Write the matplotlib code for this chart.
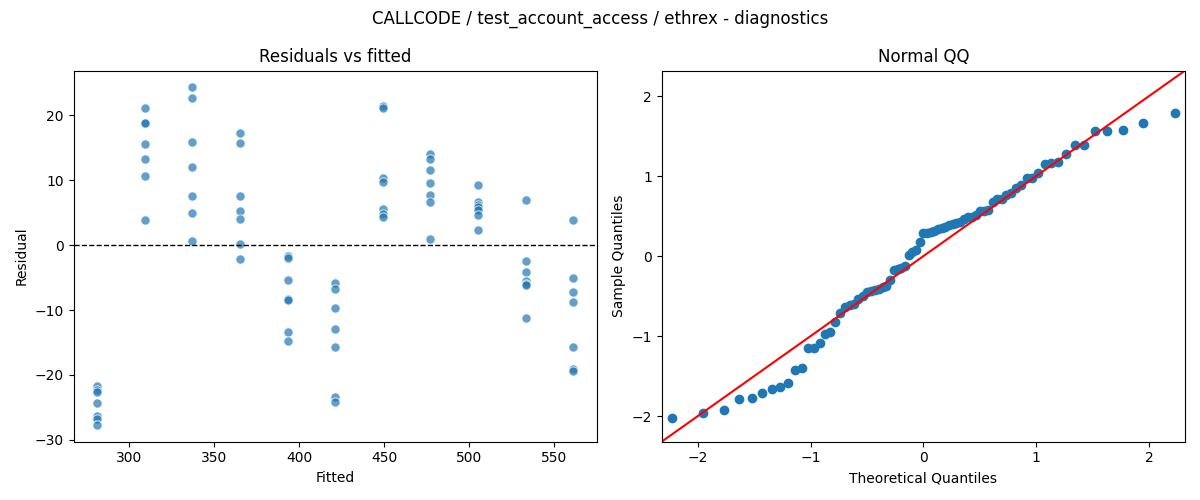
import numpy as np
import matplotlib
matplotlib.use("Agg")
from matplotlib import pyplot as plt
from statistics import NormalDist

# fitted level of each group and the residuals
fitted_levels = [281.3, 309.3, 337.3, 365.3, 393.3, 421.3, 449.3, 477.3, 505.3, 533.3, 561.3]
residuals = [
    [-21.7, -22.4, -22.7, -24.4, -26.3, -26.8, -27.7],
    [21.2, 18.9, 18.8, 15.6, 13.2, 10.7, 3.8],
    [24.3, 22.6, 15.9, 12.1, 7.6, 4.9, 0.7],
    [17.3, 15.8, 7.6, 5.2, 4.1, 0.15, -2.2],
    [-1.7, -2.0, -5.4, -8.3, -8.4, -13.4, -14.8],
    [-5.9, -6.8, -9.7, -13.0, -15.7, -23.4, -24.2],
    [21.4, 21.2, 10.4, 9.7, 5.6, 4.8, 4.3],
    [14.1, 13.3, 11.6, 9.6, 7.8, 6.6, 1.0],
    [9.2, 6.6, 6.2, 5.8, 5.4, 4.6, 2.3],
    [7.0, -2.5, -4.1, -5.6, -6.0, -6.1, -11.3],
    [3.8, -5.1, -7.3, -8.8, -15.7, -19.1, -19.4],
]

fitted = []
resid = []
for lvl, rs in zip(fitted_levels, residuals):
    for r in rs:
        fitted.append(lvl)
        resid.append(r)
resid = np.array(resid)

fig, (ax1, ax2) = plt.subplots(1, 2, figsize=(12, 5), dpi=100)

ax1.scatter(fitted, resid, s=44, color="C0", alpha=0.7, edgecolor="white", linewidth=0.75)
ax1.axhline(0, color="black", linestyle="--", linewidth=1)
ax1.set_title("Residuals vs fitted")
ax1.set_xlabel("Fitted")
ax1.set_ylabel("Residual")

# normal QQ of the standardized residuals
n = len(resid)
sample = np.sort((resid - resid.mean()) / resid.std(ddof=1))
theo = np.array([NormalDist().inv_cdf(i / (n + 1)) for i in range(1, n + 1)])
ax2.plot(theo, sample, "o", color="C0", markersize=6, linestyle="none")
lim = (-2.32, 2.32)
ax2.plot(lim, lim, color="r", linewidth=1.5)
ax2.set_xlim(lim)
ax2.set_ylim(lim)
ax2.set_title("Normal QQ")
ax2.set_xlabel("Theoretical Quantiles")
ax2.set_ylabel("Sample Quantiles")

fig.suptitle("CALLCODE / test_account_access / ethrex - diagnostics")
fig.tight_layout()
fig.savefig("out.png")
